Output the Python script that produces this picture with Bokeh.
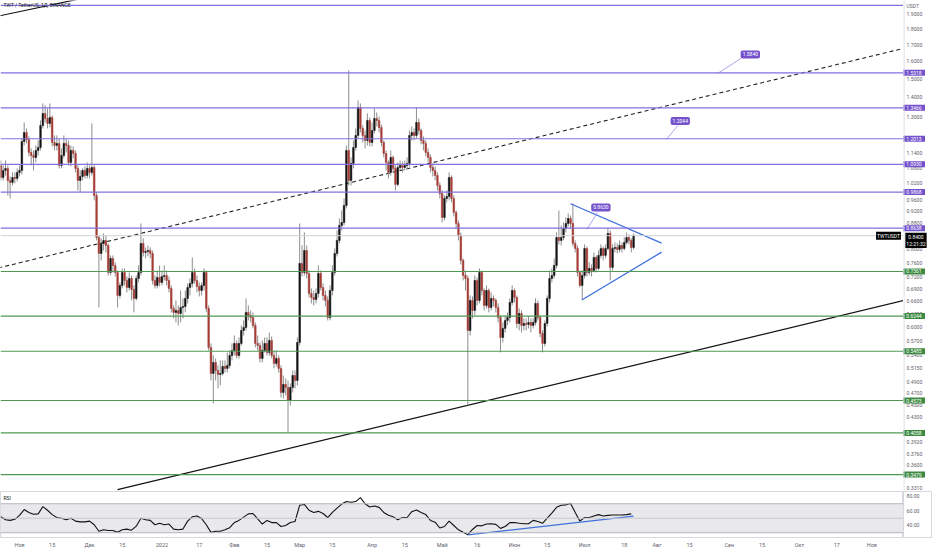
import pandas as pd
from bokeh.plotting import figure
from bokeh.layouts import column, row
from bokeh.models import (Range1d, FixedTicker, Span, Label,
                          BoxAnnotation, ColumnDataSource)
from bokeh.core.properties import value
from bokeh.embed import file_html
from bokeh.resources import INLINE

# ---------------- data ----------------
first_date = "2021-10-24"
first_open = 1.0887

close = [
    1.0415, 1.0688, 1.0767, 1.0301, 1.0225, 1.0415, 1.0376, 1.0609, 1.0688, 1.1895,
    1.2296, 1.1983, 1.1421, 1.1296, 1.1213, 1.1506, 1.1634, 1.2618, 1.3189, 1.2948,
    1.2711, 1.2996, 1.1851, 1.1720, 1.1808, 1.0887, 1.1296, 1.1808, 1.1720, 1.1008,
    1.1506, 1.1379, 1.0767, 1.0301, 1.0453, 1.0688, 1.0492, 1.0767, 1.0609, 1.0807,
    0.9746, 0.8347, 0.7868, 0.8164, 0.8255, 0.8104, 0.7336, 0.7725, 0.7528, 0.7336,
    0.6739, 0.6992, 0.7336, 0.7122, 0.6941, 0.7175, 0.6889, 0.6665, 0.7175, 0.7336,
    0.8164, 0.7898, 0.7927, 0.7956, 0.7868, 0.7122, 0.6992, 0.7202, 0.7070, 0.7228,
    0.7255, 0.7122, 0.6915, 0.6424, 0.6329, 0.6376, 0.6306, 0.6447, 0.6471, 0.6665,
    0.6941, 0.7044, 0.7336, 0.7122, 0.6966, 0.6864, 0.6992, 0.7336, 0.6424, 0.5563,
    0.5054, 0.5263, 0.5110, 0.5035, 0.5054, 0.5186, 0.5148, 0.5205, 0.5400, 0.5501,
    0.5645, 0.5400, 0.5645, 0.5922, 0.5989, 0.6329, 0.6259, 0.6213, 0.6033, 0.5645,
    0.5604, 0.5341, 0.5501, 0.5645, 0.5461, 0.5708, 0.5400, 0.5244, 0.5341, 0.5148,
    0.4711, 0.4853, 0.4799, 0.4574, 0.4799, 0.5016, 0.4925, 0.5666, 0.7584, 0.7336,
    0.7956, 0.7309, 0.6788, 0.6689, 0.6640, 0.6788, 0.7309, 0.6941, 0.6739, 0.6616,
    0.6213, 0.6864, 0.7336, 0.7868, 0.8255, 0.8725, 0.8822, 0.9393, 1.1506, 1.0301,
    1.0967, 1.1634, 1.2161, 1.3484, 1.2479, 1.2161, 1.1939, 1.2853, 1.1851, 1.2387,
    1.2948, 1.2853, 1.2525, 1.1851, 1.1379, 1.1008, 1.0609, 1.1213, 1.0767, 1.0150,
    1.0807, 1.0887, 1.0807, 1.0887, 1.0967, 1.2161, 1.2296, 1.2161, 1.2759, 1.2387,
    1.1939, 1.1808, 1.1421, 1.1213, 1.0807, 1.0688, 1.0492, 1.0112, 0.9819, 0.8986,
    0.9639, 0.9710, 1.0415, 0.9639, 0.9153, 0.8789, 0.8409, 0.7668, 0.7255, 0.7175,
    0.5922, 0.6616, 0.6376, 0.7122, 0.6616, 0.7336, 0.6864, 0.6495, 0.6864, 0.6447,
    0.6665, 0.6616, 0.6447, 0.6213, 0.5771, 0.5967, 0.6145, 0.6213, 0.6567, 0.6864,
    0.6689, 0.6077, 0.6306, 0.6033, 0.6077, 0.6055, 0.6100, 0.6033, 0.6100, 0.6543,
    0.6213, 0.5857, 0.5645, 0.6077, 0.6665, 0.7175, 0.7255, 0.7528, 0.8347, 0.8255,
    0.8347, 0.8629, 0.8789, 0.8953, 0.8789, 0.8164, 0.8015, 0.7336, 0.6992, 0.7255,
    0.8015, 0.7336, 0.7445, 0.7390, 0.7754, 0.7445, 0.7811, 0.8015, 0.7811, 0.8015,
    0.8471, 0.7473, 0.8015, 0.8044, 0.7985, 0.8104, 0.8015, 0.8194, 0.8347, 0.8255,
    0.8044, 0.8400,
]

high = [
    1.1089, 1.0887, 1.1089, 1.0887, 1.0453, 1.0609, 1.0609, 1.0767, 1.0887, 1.2027,
    1.2759, 1.2479, 1.2116, 1.1591, 1.1506, 1.1720, 1.1939, 1.2853, 1.3685, 1.3584,
    1.3434, 1.3685, 1.3092, 1.2161, 1.2161, 1.2027, 1.1591, 1.2161, 1.2027, 1.1939,
    1.1720, 1.1677, 1.1506, 1.0887, 1.0688, 1.0767, 1.0847, 1.1008, 1.0887, 1.2711,
    1.0887, 0.9855, 0.8409, 0.8316, 0.8471, 0.8409, 0.8164, 0.7811, 0.7811, 0.7612,
    0.7390, 0.7070, 0.7445, 0.7445, 0.7228, 0.7336, 0.7255, 0.6992, 0.7255, 0.7528,
    0.8789, 0.8316, 0.8044, 0.8104, 0.8044, 0.7956, 0.7255, 0.7390, 0.7528, 0.7390,
    0.7528, 0.7390, 0.7228, 0.6992, 0.6495, 0.6616, 0.6495, 0.6864, 0.6665, 0.6864,
    0.7044, 0.7175, 0.7754, 0.7445, 0.7255, 0.7070, 0.7070, 0.7445, 0.7390, 0.6495,
    0.5645, 0.5400, 0.5341, 0.5205, 0.5302, 0.5302, 0.5302, 0.5461, 0.5501, 0.5645,
    0.5814, 0.5708, 0.5771, 0.6033, 0.6145, 0.6665, 0.6495, 0.6376, 0.6329, 0.6100,
    0.5814, 0.5666, 0.5708, 0.5771, 0.5771, 0.5878, 0.5793, 0.5501, 0.5501, 0.5400,
    0.5205, 0.5016, 0.4961, 0.4925, 0.4871, 0.5110, 0.5110, 0.5771, 0.8789, 0.8104,
    0.8502, 0.8104, 0.7390, 0.6915, 0.6864, 0.6915, 0.7528, 0.7390, 0.7044, 0.6864,
    0.6714, 0.6992, 0.7528, 0.8015, 0.8565, 0.8953, 0.9221, 0.9639, 1.1720, 1.5457,
    1.1213, 1.1939, 1.2479, 1.3837, 1.3685, 1.2618, 1.2387, 1.3189, 1.2996, 1.2759,
    1.3434, 1.3238, 1.3044, 1.2665, 1.1939, 1.1506, 1.1089, 1.1506, 1.1296, 1.0887,
    1.1008, 1.1089, 1.1048, 1.1089, 1.1213, 1.2387, 1.2572, 1.2479, 1.3484, 1.2948,
    1.2479, 1.2116, 1.1939, 1.1591, 1.1338, 1.0967, 1.0847, 1.0609, 1.0225, 0.9928,
    0.9746, 0.9928, 1.0609, 1.0492, 0.9746, 0.9221, 0.8887, 0.8502, 0.7725, 0.7390,
    0.7255, 0.6739, 0.6714, 0.7255, 0.7202, 0.7445, 0.7390, 0.6915, 0.6992, 0.6915,
    0.6814, 0.6739, 0.6665, 0.6543, 0.6259, 0.6100, 0.6259, 0.6329, 0.6665, 0.6992,
    0.6915, 0.6739, 0.6424, 0.6376, 0.6190, 0.6190, 0.6236, 0.6190, 0.6190, 0.6665,
    0.6616, 0.6259, 0.5922, 0.6145, 0.6739, 0.7390, 0.7445, 0.7725, 0.8502, 0.9221,
    0.8725, 0.8822, 0.8986, 0.9120, 0.9053, 0.9462, 0.8255, 0.8104, 0.7390, 0.7390,
    0.8134, 0.8074, 0.7612, 0.7556, 0.7898, 0.7811, 0.7956, 0.8134, 0.8074, 0.8134,
    0.8629, 0.8565, 0.8134, 0.8194, 0.8164, 0.8255, 0.8194, 0.8347, 0.8502, 0.8440,
    0.8316, 0.8471,
]

low = [
    1.0301, 1.0301, 1.0492, 0.9746, 0.9639, 1.0112, 1.0188, 1.0263, 1.0453, 1.0531,
    1.1720, 1.1808, 1.1254, 1.0887, 1.0688, 1.1008, 1.1296, 1.1506, 1.2479, 1.2759,
    1.2479, 1.2525, 1.1677, 1.1506, 1.1506, 1.0767, 1.0767, 1.1172, 1.1421, 1.0887,
    1.0847, 1.1172, 1.0609, 0.9928, 0.9855, 1.0301, 1.0376, 1.0376, 1.0376, 1.0492,
    0.9568, 0.8255, 0.6447, 0.7668, 0.7956, 0.7898, 0.7255, 0.7255, 0.7336, 0.7228,
    0.6447, 0.6665, 0.6915, 0.6992, 0.6814, 0.6864, 0.6616, 0.6329, 0.6616, 0.7070,
    0.7255, 0.7782, 0.7725, 0.7782, 0.7725, 0.7018, 0.6915, 0.6915, 0.6966, 0.6992,
    0.7122, 0.6992, 0.6814, 0.6329, 0.6190, 0.6100, 0.6033, 0.6100, 0.6190, 0.6329,
    0.6543, 0.6739, 0.6941, 0.7044, 0.6814, 0.6714, 0.6739, 0.6864, 0.6329, 0.5501,
    0.4925, 0.4524, 0.4925, 0.4782, 0.4835, 0.5016, 0.5072, 0.5072, 0.5148, 0.5302,
    0.5400, 0.5341, 0.5341, 0.5604, 0.5814, 0.5922, 0.6145, 0.6100, 0.5967, 0.5563,
    0.5501, 0.5263, 0.5263, 0.5461, 0.5400, 0.5400, 0.5341, 0.5148, 0.5186, 0.5072,
    0.4625, 0.4608, 0.4659, 0.4058, 0.4491, 0.4711, 0.4782, 0.4835, 0.5604, 0.7228,
    0.7255, 0.7175, 0.6689, 0.6543, 0.6495, 0.6543, 0.6689, 0.6864, 0.6616, 0.6471,
    0.6145, 0.6145, 0.6739, 0.7255, 0.7782, 0.8164, 0.8565, 0.8725, 0.9290, 1.0112,
    1.0112, 1.0767, 1.1506, 1.2027, 1.2296, 1.1851, 1.1591, 1.1720, 1.1677, 1.1677,
    1.2251, 1.2572, 1.2296, 1.1677, 1.1213, 1.0688, 1.0376, 1.0492, 1.0609, 0.9928,
    1.0075, 1.0688, 1.0609, 1.0688, 1.0727, 1.0847, 1.1939, 1.1939, 1.2027, 1.2206,
    1.1763, 1.1506, 1.1254, 1.1008, 1.0609, 1.0453, 1.0301, 0.9928, 0.9639, 0.8822,
    0.8887, 0.9498, 0.9568, 0.9498, 0.9020, 0.8629, 0.8255, 0.7556, 0.7122, 0.6864,
    0.4491, 0.5814, 0.6190, 0.6259, 0.6495, 0.6543, 0.6739, 0.6376, 0.6424, 0.6329,
    0.6376, 0.6471, 0.6329, 0.6100, 0.5461, 0.5666, 0.5878, 0.6033, 0.6100, 0.6495,
    0.6567, 0.5967, 0.5922, 0.5878, 0.5922, 0.5922, 0.5967, 0.5878, 0.5967, 0.6033,
    0.6145, 0.5771, 0.5461, 0.5583, 0.6011, 0.6567, 0.7070, 0.7175, 0.7445, 0.8134,
    0.8104, 0.8255, 0.8502, 0.8693, 0.8629, 0.8074, 0.7898, 0.7228, 0.6941, 0.6616,
    0.7175, 0.7228, 0.7255, 0.7228, 0.7336, 0.7336, 0.7390, 0.7725, 0.7668, 0.7725,
    0.7956, 0.7122, 0.7390, 0.7898, 0.7868, 0.7898, 0.7898, 0.7956, 0.8134, 0.8134,
    0.7898, 0.7985,
]

# RSI read at every second candle
rsi_every_2nd = [
    52, 48, 47, 48.5, 54, 62, 58, 55.5, 56, 66,
    61, 55, 51, 50, 48, 50, 46, 45, 45, 46,
    41, 32, 34, 33, 33, 30.5, 34, 35, 33.5, 39,
    50, 48, 47, 41, 43, 41, 42, 35, 34, 35,
    46, 52, 53, 49.5, 41, 30.5, 32, 32, 34, 37,
    44, 47, 51.5, 56, 56.5, 49, 42, 47, 44, 44,
    38.6, 40, 44, 45.5, 68, 69, 61, 58, 59.5, 56.5,
    51, 58, 64, 69.5, 73, 72, 73, 78.5, 70, 65.5,
    66.8, 65, 58, 54, 52, 48, 51, 51, 59, 61.5,
    58, 55, 47, 44.5, 36.5, 38.6, 46, 40, 34, 30.5,
    27.3, 34.5, 40, 39.5, 42, 42.3, 41.5, 36, 38.6, 44,
    44, 43, 42.3, 42.3, 47, 45.5, 43, 50, 57, 65,
    68, 68.5, 70.5, 58, 46, 51, 51, 53, 55, 53,
    54, 54.5, 54.5, 54.5, 55, 56,
]

top_level = 1.9646
purple_levels = [1.5318, 1.3466, 1.2013, 1.0930, 0.9868, 0.8638]
green_levels = [0.7361, 0.6244, 0.5485, 0.4573, 0.4058, 0.3479]
last_price = 0.8400
countdown = "12:21:32"
symbol = "TWTUSDT"
unit = "USDT"
title_text = "TWT / TetherUS, 1Д, BINANCE"

price_ticks = [1.9, 1.8, 1.7, 1.6, 1.5, 1.4, 1.3, 1.2, 1.14, 1.08, 1.02, 0.96,
               0.92, 0.88, 0.84, 0.80, 0.76, 0.72, 0.69, 0.66, 0.63, 0.60, 0.57,
               0.54, 0.515, 0.49, 0.47, 0.45, 0.43, 0.392, 0.376, 0.36, 0.331]
rsi_ticks = [40, 60, 80]

date_ticks = ["2021-11-01", "2021-11-15", "2021-12-01", "2021-12-15", "2022-01-01",
              "2022-01-17", "2022-02-01", "2022-02-15", "2022-03-01", "2022-03-15",
              "2022-04-01", "2022-04-15", "2022-05-01", "2022-05-16", "2022-06-01",
              "2022-06-15", "2022-07-01", "2022-07-18", "2022-08-01", "2022-08-15",
              "2022-09-01", "2022-09-15", "2022-10-01", "2022-10-17", "2022-11-01"]
date_tick_labels = ["Ноя", "15", "Дек", "15", "2022", "17", "Фев", "15", "Мар", "15",
                    "Апр", "15", "Май", "16", "Июн", "15", "Июл", "18", "Авг", "15",
                    "Сен", "15", "Окт", "17", "Ноя"]

# drawings (anchor dates and prices)
trend_up_dates = ["2021-12-13", "2022-11-20"]
trend_up_prices = [0.3291, 0.6690]
dashed_dates = ["2021-10-20", "2022-11-20"]
dashed_prices = [0.7412, 1.6954]
topleft_dates = ["2021-10-20", "2021-12-01"]
topleft_prices = [1.8787, 2.0280]
tri_upper_dates = ["2022-06-25", "2022-08-03"]
tri_upper_prices = [0.9451, 0.8173]
tri_lower_dates = ["2022-06-30", "2022-08-03"]
tri_lower_prices = [0.6632, 0.7905]
rsi_trend_dates = ["2022-05-12", "2022-07-22"]
rsi_trend_values = [27.0, 53.0]
callout_texts = ["0.8630", "1.5840", "1.2044"]
callout_box_dates = ["2022-07-08", "2022-09-10", "2022-08-11"]
callout_box_prices = [0.9323, 1.6397, 1.2829]
callout_from_dates = ["2022-07-02", "2022-08-27", "2022-08-05"]
callout_from_prices = [0.8596, 1.5287, 1.1982]
callout_to_dates = ["2022-07-06 12:00", "2022-09-06", "2022-08-10"]
callout_to_prices = [0.9147, 1.6157, 1.2618]

# ---------------- helpers / style ----------------
ORIGIN = pd.Timestamp("2021-11-01")


def dnum(s):
    return (pd.Timestamp(s) - ORIGIN) / pd.Timedelta(days=1)


FONT = "Roboto"
UP = "#131313"
DOWN = "#a63d37"
WICK = "#8e8e8e"
PURPLE = "#8071e0"
PURPLE_BOX = "#7452cc"
GREEN = "#4f9a53"
GREEN_BOX = "#3b8a3f"
BLUE = "#3f70de"
AXIS_TXT = "#5f626c"
BORDER = "#d6d8de"

X0, X1 = -8.14, 378.6
FRAME_W = 903
AX_W = 29
MAIN_H = 491
RSI_H = 46
TIME_H = 13
Y_MAIN = (0.3269, 2.0006)
Y_RSI = (23.4, 86.9)

dates = pd.date_range(first_date, periods=len(close), freq="D")
xs = [(d - ORIGIN) / pd.Timedelta(days=1) for d in dates]
opens = [first_open] + close[:-1]
colors = [UP if c >= o else DOWN for o, c in zip(opens, close)]
src = ColumnDataSource(dict(x=xs, open=opens, close=close, high=high, low=low,
                            top=[max(o, c) for o, c in zip(opens, close)],
                            bottom=[min(o, c) for o, c in zip(opens, close)],
                            color=colors))


def base_fig(**kw):
    f = figure(toolbar_location=None, output_backend="svg",
               min_border_left=0, min_border_right=0, min_border_top=0,
               background_fill_color="white", border_fill_color="white", **kw)
    f.xgrid.visible = False
    f.ygrid.visible = False
    return f


# ---------------- main price panel ----------------
p = base_fig(frame_width=FRAME_W, frame_height=MAIN_H, x_range=Range1d(X0, X1),
             y_range=Range1d(*Y_MAIN), y_axis_type="log",
             x_axis_location=None, y_axis_location=None, min_border_bottom=0)
p.outline_line_color = None

p.add_layout(Span(location=top_level, dimension="width", line_color=PURPLE, line_width=1.2))
for lv in purple_levels:
    p.add_layout(Span(location=lv, dimension="width", line_color=PURPLE, line_width=1.2))
for lv in green_levels:
    p.add_layout(Span(location=lv, dimension="width", line_color=GREEN, line_width=1.2))
p.add_layout(Span(location=last_price, dimension="width", line_color="#cfd1d6", line_width=1))

p.line([dnum(d) for d in trend_up_dates], trend_up_prices, line_color="#111111", line_width=1.2)
p.line([dnum(d) for d in dashed_dates], dashed_prices, line_color="#222222",
       line_width=1.1, line_dash="4 3")
p.line([dnum(d) for d in topleft_dates], topleft_prices, line_color="#111111", line_width=1.2)

p.segment(x0="x", y0="low", x1="x", y1="high", line_color=WICK, line_width=1, source=src)
p.vbar(x="x", width=0.7, top="top", bottom="bottom", fill_color="color",
       line_color="color", line_width=0.5, source=src)

p.line([dnum(d) for d in tri_upper_dates], tri_upper_prices, line_color=BLUE, line_width=1.3)
p.line([dnum(d) for d in tri_lower_dates], tri_lower_prices, line_color=BLUE, line_width=1.3)

for t, bd, bp, fd, fp, td, tp in zip(callout_texts, callout_box_dates, callout_box_prices,
                                      callout_from_dates, callout_from_prices,
                                      callout_to_dates, callout_to_prices):
    p.line([dnum(fd), dnum(td)], [fp, tp], line_color="#9a8be6", line_width=0.8)
    p.add_layout(Label(x=dnum(bd), y=bp, text=t, text_font=FONT, text_font_size="5px",
                       text_color="white", text_align="center", text_baseline="middle",
                       background_fill_color=PURPLE_BOX, background_fill_alpha=1.0,
                       padding=2, border_radius=2))

p.add_layout(Label(x=X1, y=last_price, x_offset=-15, text=symbol, text_font=FONT,
                   text_font_size="5px", text_color="white", text_align="center",
                   text_baseline="middle", background_fill_color="#000000",
                   background_fill_alpha=1.0, padding=1))
p.add_layout(Label(x=X0, y=Y_MAIN[1], x_offset=3, y_offset=-1, text=title_text,
                   text_font=FONT, text_font_size="5px", text_color="#131722",
                   text_align="left", text_baseline="top"))

# ---------------- price scale panel ----------------
pa = base_fig(frame_width=AX_W, frame_height=MAIN_H, x_range=Range1d(0, AX_W),
              y_range=p.y_range, y_axis_type="log",
              x_axis_location=None, y_axis_location=None, min_border_bottom=0)
pa.outline_line_color = None
pa.add_layout(Span(location=0.5, dimension="height", line_color=BORDER, line_width=1))
pa.text(x=[3] * len(price_ticks), y=price_ticks, text=["%.4f" % t for t in price_ticks],
        text_font=value(FONT), text_font_size="5.2px", text_color=AXIS_TXT,
        text_align="left", text_baseline="middle")
pa.text(x=[3], y=[Y_MAIN[1]], y_offset=2, text=[unit], text_font=value(FONT),
        text_font_size="5px", text_color=AXIS_TXT, text_align="left", text_baseline="top")

box_levels = purple_levels + green_levels
box_colors = [PURPLE_BOX] * len(purple_levels) + [GREEN_BOX] * len(green_levels)
pa.rect(x=[10.5] * len(box_levels), y=box_levels, width=22, height=6,
        height_units="screen", fill_color=box_colors, line_color=None)
pa.text(x=[10.5] * len(box_levels), y=box_levels, text=["%.4f" % v for v in box_levels],
        text_font=value(FONT), text_font_size="5px", text_color="white",
        text_align="center", text_baseline="middle")
pa.add_layout(Label(x=12.5, y=last_price, y_offset=3, text="%.4f\n%s" % (last_price, countdown),
                    text_font=FONT, text_font_size="5px", text_color="white",
                    text_align="center", text_baseline="top", background_fill_color="#000000",
                    background_fill_alpha=1.0, padding=1))

# ---------------- RSI panel ----------------
r = base_fig(frame_width=FRAME_W, frame_height=RSI_H, x_range=p.x_range,
             y_range=Range1d(*Y_RSI), y_axis_location=None, min_border_bottom=TIME_H)
r.outline_line_color = BORDER
r.add_layout(BoxAnnotation(bottom=30, top=70, fill_color="#e9e9ec", fill_alpha=1.0,
                           line_color=None, level="underlay"))
r.add_layout(Span(location=70, dimension="width", line_color="#b4b6bd", line_width=1))
r.add_layout(Span(location=30, dimension="width", line_color="#b4b6bd", line_width=1))
r.add_layout(Span(location=50, dimension="width", line_color="#c8cacf", line_width=1))
r.line(xs[::2], rsi_every_2nd, line_color="#111111", line_width=1.1)
r.line([dnum(d) for d in rsi_trend_dates], rsi_trend_values, line_color=BLUE, line_width=1.3)
r.add_layout(Label(x=X0, y=Y_RSI[1], x_offset=3, y_offset=-3, text="RSI", text_font=FONT,
                   text_font_size="5px", text_color="#131722", text_align="left",
                   text_baseline="top"))

rx = r.xaxis[0]
tick_x = [int(round(dnum(d))) for d in date_ticks]
rx.ticker = FixedTicker(ticks=tick_x)
rx.major_label_overrides = {t: lab for t, lab in zip(tick_x, date_tick_labels)}
rx.major_label_text_font = FONT
rx.major_label_text_font_size = "5.5px"
rx.major_label_text_color = AXIS_TXT
rx.major_tick_line_color = None
rx.major_tick_out = 0
rx.minor_tick_line_color = None
rx.axis_line_color = None
rx.major_label_standoff = 4

ra = base_fig(frame_width=AX_W, frame_height=RSI_H, x_range=Range1d(0, AX_W),
              y_range=r.y_range, x_axis_location=None, y_axis_location=None,
              min_border_bottom=TIME_H)
ra.outline_line_color = BORDER
ra.text(x=[3] * len(rsi_ticks), y=rsi_ticks, text=["%.2f" % t for t in rsi_ticks],
        text_font=value(FONT), text_font_size="5.2px", text_color=AXIS_TXT,
        text_align="left", text_baseline="middle")

layout = column(row(p, pa, spacing=0), row(r, ra, spacing=0), spacing=0)
open("out.html", "w").write(file_html(layout, INLINE))
